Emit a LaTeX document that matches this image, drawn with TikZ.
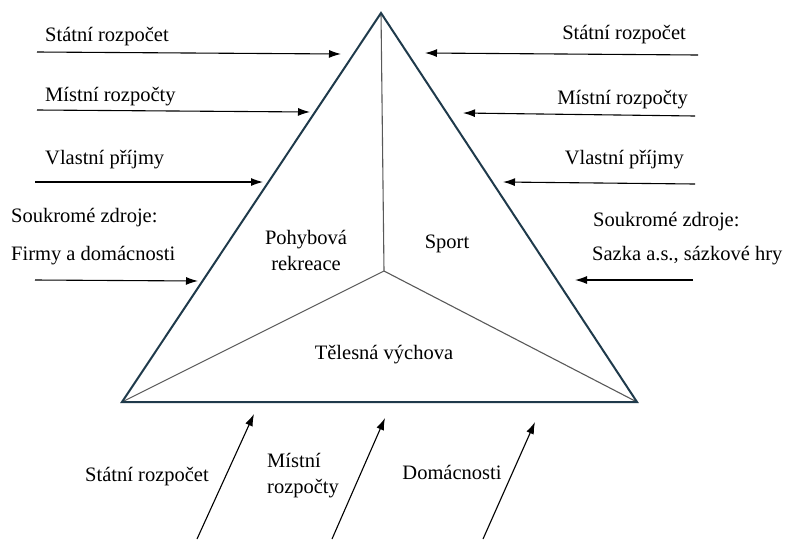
\documentclass[tikz,border=0pt]{standalone}
\usepackage{fontspec}
\setmainfont{Liberation Serif}
\usetikzlibrary{arrows.meta}
\definecolor{triedge}{HTML}{1F3A4B}
\begin{document}
\begin{tikzpicture}[x=1pt,y=-1pt,
  lbl/.style={inner sep=0pt, font=\fontsize{20.5}{26}\selectfont},
  flow/.style={-{Latex[length=12pt,width=8pt]}, line width=1.1pt, black},
  outer/.style={draw=triedge, line width=2pt, line join=miter},
  inner/.style={draw=black!65, line width=1.1pt}]
\useasboundingbox (0,0) rectangle (787,539);

% triangle
\coordinate (A) at (381,13);
\coordinate (B) at (122,402);
\coordinate (C) at (637,402);
\coordinate (O) at (384,271);
\draw[inner] (A) -- (O) (B) -- (O) -- (C);
\draw[outer] (A) -- (B) -- (C) -- cycle;

% interior labels
\node[lbl, align=center] (pr) at (306,250) {Pohybová\\rekreace};
\node[lbl] (sp) at (447,244) {Sport};
\node[lbl] (tv) at (384,355) {Tělesná výchova};

% left side
\node[lbl, anchor=west] (l1) at (45,37) {Státní rozpočet};
\node[lbl, anchor=west] (l2) at (45,97) {Místní rozpočty};
\node[lbl, anchor=west] (l3) at (45,160) {Vlastní příjmy};
\node[lbl, anchor=west] (l4) at (11,218) {Soukromé zdroje:};
\node[lbl, anchor=west] (l5) at (11,256) {Firmy a domácnosti};
\coordinate (la1) at (37,52);  \coordinate (lb1) at (341,54);
\coordinate (la2) at (37,110); \coordinate (lb2) at (310,112);
\coordinate (la3) at (35,182); \coordinate (lb3) at (263,182);
\coordinate (la4) at (35,280); \coordinate (lb4) at (198,281);
\foreach \i in {1,2,3,4} \draw[flow] (la\i) -- (lb\i);

% right side
\node[lbl, anchor=east] (r1) at (686,35) {Státní rozpočet};
\node[lbl, anchor=east] (r2) at (688,100) {Místní rozpočty};
\node[lbl, anchor=east] (r3) at (684,160) {Vlastní příjmy};
\node[lbl, anchor=west] (r4) at (593,222) {Soukromé zdroje:};
\node[lbl, anchor=west] (r5) at (592,256) {Sazka a.s., sázkové hry};
\coordinate (ra1) at (698,55);  \coordinate (rb1) at (425,53);
\coordinate (ra2) at (695,116); \coordinate (rb2) at (463,113);
\coordinate (ra3) at (695,184); \coordinate (rb3) at (503,182);
\coordinate (ra4) at (693,280); \coordinate (rb4) at (575,280);
\foreach \i in {1,2,3,4} \draw[flow] (ra\i) -- (rb\i);

% bottom
\node[lbl] (b1) at (147,477) {Státní rozpočet};
\node[lbl, align=left, anchor=west] (b2) at (267,476) {Místní\\rozpočty};
\node[lbl] (b3) at (452,472) {Domácnosti};
\coordinate (ba1) at (197,539); \coordinate (bb1) at (254,414);
\coordinate (ba2) at (332,539); \coordinate (bb2) at (385,418);
\coordinate (ba3) at (483,539); \coordinate (bb3) at (535,422);
\foreach \i in {1,2,3} \draw[flow] (ba\i) -- (bb\i);
\end{tikzpicture}
\end{document}
